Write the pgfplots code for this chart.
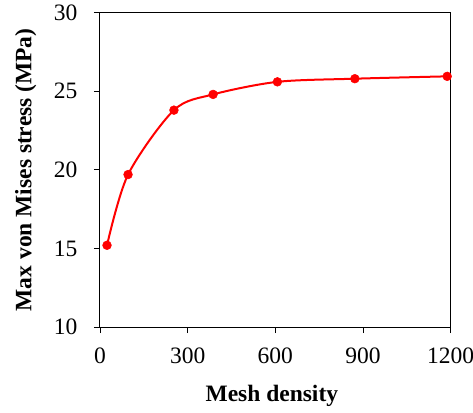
\documentclass[border=0pt]{standalone}
\usepackage{pgfplots}
\pgfplotsset{compat=1.18}
\usepackage{fontspec}
\setmainfont{Liberation Serif}
\begin{document}
\begin{tikzpicture}
\begin{axis}[
  scale only axis,
  width=350.7pt, height=314.3pt,
  xmin=0, xmax=1200, ymin=10, ymax=30,
  xtick={0,300,600,900,1200},
  ytick={10,15,20,25,30},
  tick align=outside,
  tick pos=left,
  major tick length=6pt,
  axis line style={line width=1pt},
  every tick/.style={black, line width=0.8pt},
  /pgf/number format/assume math mode=true,
  /pgf/number format/1000 sep={},
  tick label style={font=\fontsize{23.5}{28}\selectfont},
  yticklabel style={xshift=-13pt},
  xticklabel style={yshift=-11pt},
  label style={font=\fontsize{23.5}{28}\selectfont\bfseries},
  xlabel={Mesh density},
  ylabel={Max von Mises stress (MPa)},
  xlabel style={at={(axis description cs:0.49,-0.22)}, anchor=center},
  ylabel style={at={(axis description cs:-0.212,0.5)}, anchor=center},
]
\addplot[red, line width=2pt, smooth, tension=0.5, mark=*, mark size=4.4pt, mark options={fill=red, draw=red, line width=0.5pt}]
coordinates {(24,15.2) (96,19.7) (253,23.8) (387,24.8) (607,25.6) (872,25.8) (1188,25.95)};
\coordinate (BL) at (rel axis cs:0,0);
\end{axis}
\pgfresetboundingbox
\path ([shift={(-100pt,-85pt)}]BL) rectangle ([shift={(373pt,327pt)}]BL);
\end{tikzpicture}
\end{document}
